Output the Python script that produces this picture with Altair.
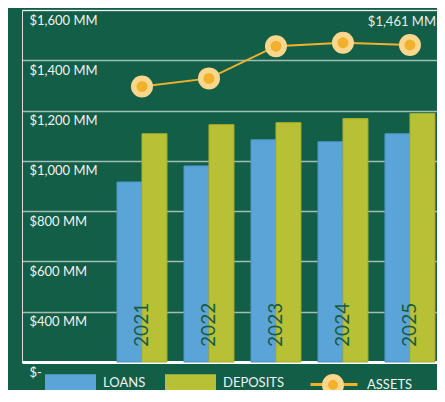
import altair as alt
import pandas as pd

years = ["2021", "2022", "2023", "2024", "2025"]
loans = [916, 980, 1084, 1076, 1108]
deposits = [1108, 1144, 1152, 1168, 1188]
assets = [1296, 1328, 1456, 1470, 1461]
series_names = ["LOANS", "DEPOSITS"]
assets_name = "ASSETS"
marker_name = "ASSETS marker"
y_ticks = [200, 400, 600, 800, 1000, 1200, 1400, 1600]
annotation = "$1,461 MM"

BG = "#135e46"
BLUE = "#5ba4d7"
GREEN = "#b8c035"
ORANGE = "#f2b12c"
LIGHT = "#fbd78e"
DARK = "#1a5a46"
FONT = "Lato"

bars_df = pd.DataFrame(
    [{"year": y, "series": s, "value": v}
     for s, vals in zip(series_names, [loans, deposits])
     for y, v in zip(years, vals)]
)
assets_df = pd.DataFrame({"year": years, "value": assets,
                          "label": assets_name, "marker": marker_name})
years_df = pd.DataFrame({"year": years})
ann_df = pd.DataFrame({"year": [years[-1]], "value": [assets[-1]], "text": [annotation]})

x_scale = alt.Scale(domain=years, paddingInner=0.2537, paddingOuter=0.724, align=0.979)
y_scale = alt.Scale(domain=[200, 1600], zero=False, nice=False)

x_enc = alt.X("year:N", scale=x_scale,
              axis=alt.Axis(title=None, labels=False, ticks=False, domain=True,
                            domainColor="white", domainWidth=3, grid=False))
y_axis = alt.Axis(title=None, values=y_ticks, domain=False, ticks=False,
                  labelAlign="left", labelBaseline="top", labelPadding=-7,
                  labelOffset=4, labelColor="#f2f2f2", labelFont=FONT,
                  labelFontSize=13,
                  labelExpr="datum.value == 200 ? '$-' : '$' + format(datum.value, ',') + '  MM'",
                  grid=True, gridColor="white", gridOpacity=0.6, gridWidth=1.5)

bars = alt.Chart(bars_df).mark_bar(strokeWidth=1).encode(
    x=x_enc,
    xOffset=alt.XOffset("series:N", sort=series_names,
                        scale=alt.Scale(domain=series_names, paddingInner=0, paddingOuter=0)),
    y=alt.Y("value:Q", scale=y_scale, axis=y_axis),
    y2=alt.datum(200),
    color=alt.Color("series:N", sort=series_names,
                    scale=alt.Scale(domain=series_names, range=[BLUE, GREEN]),
                    legend=alt.Legend(title=None, orient="none", legendX=23, legendY=347.5,
                                      direction="horizontal", padding=0,
                                      symbolType="M-1,-0.35H1V0.35H-1Z", symbolSize=2601,
                                      symbolStrokeWidth=0, symbolOpacity=1,
                                      labelColor="#f2f2f2", labelFont=FONT, labelFontSize=13,
                                      labelOffset=7, columnPadding=19)),
    stroke=alt.condition(alt.datum.series == "LOANS", alt.value("#4b93c6"), alt.value("#a6ae2b")),
)

year_text = alt.Chart(years_df).mark_text(
    angle=270, align="left", baseline="middle", fontSize=19, color=DARK, font=FONT
).encode(x="year:N", y=alt.datum(260), text="year:N")

line = alt.Chart(assets_df).mark_line(strokeWidth=2).encode(
    x="year:N",
    y="value:Q",
    stroke=alt.Stroke("label:N", scale=alt.Scale(domain=[assets_name], range=[ORANGE]),
                      legend=alt.Legend(title=None, orient="none", legendX=287, legendY=349.5,
                                        padding=0, symbolType="M-1,0H1", symbolSize=2209,
                                        symbolStrokeWidth=3, labelColor="#f2f2f2",
                                        labelFont=FONT, labelFontSize=13, labelOffset=8,
                                        zindex=1)),
)

outer = alt.Chart(assets_df).mark_circle(size=484, color=LIGHT, opacity=1).encode(
    x="year:N", y="value:Q")

inner = alt.Chart(assets_df).mark_circle(size=121, opacity=1).encode(
    x="year:N", y="value:Q",
    fill=alt.Fill("marker:N", scale=alt.Scale(domain=[marker_name], range=[ORANGE]),
                  legend=alt.Legend(title=None, orient="none", legendX=300, legendY=364,
                                    padding=0, symbolType="circle", symbolSize=256,
                                    symbolStrokeColor=LIGHT, symbolStrokeWidth=6,
                                    symbolOpacity=1, labelExpr="''", zindex=2)),
)

ann = alt.Chart(ann_df).mark_text(
    dy=-23, dx=26, align="right", fontSize=13, color="#e8efe9", font=FONT
).encode(x="year:N", y="value:Q", text="text:N")

chart = alt.layer(bars, year_text, line, outer, inner, ann).properties(
    width=415, height=352,
    autosize=alt.AutoSizeParams(type="none"),
    padding={"left": 14, "top": 2, "right": 0, "bottom": 28},
    background=BG,
).configure_view(stroke=None).configure(font=FONT)

chart.save("out.html", embed_options={"renderer": "svg", "actions": False})
